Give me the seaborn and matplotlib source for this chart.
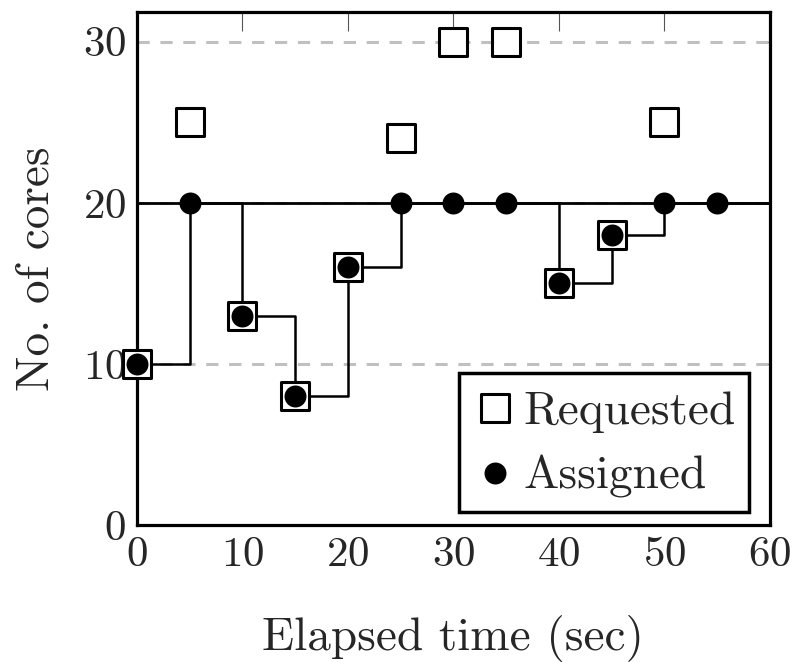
import matplotlib
matplotlib.use("Agg")
import matplotlib.pyplot as plt
import seaborn as sns
import pandas as pd

# ---- data ----
req_time = [0, 5, 10, 15, 20, 25, 30, 35, 40, 45, 50]
requested = [10, 25, 13, 8, 16, 24, 30, 30, 15, 18, 25]
asg_time = [0, 5, 10, 15, 20, 25, 30, 35, 40, 45, 50, 55]
assigned = [10, 20, 13, 8, 16, 20, 20, 20, 15, 18, 20, 20]
max_cores = 20
x_ticks = [0, 10, 20, 30, 40, 50, 60]
y_ticks = [0, 10, 20, 30]

sns.set_theme(style="white")
plt.rcParams['font.family'] = ['cmr10', 'DejaVu Serif']
plt.rcParams['axes.formatter.use_mathtext'] = True
plt.rcParams['mathtext.fontset'] = 'cm'

fig = plt.figure(figsize=(7.96, 6.62), dpi=100)
ax = fig.add_axes([0.172, 0.207, 0.795, 0.775])

xmax = x_ticks[-1]
# step line, extended to the right edge
step_df = pd.DataFrame({"t": asg_time + [xmax], "c": assigned + [assigned[-1]]})
sns.lineplot(data=step_df, x="t", y="c", ax=ax, color="black", lw=1.8,
             drawstyle="steps-post", estimator=None, sort=False, zorder=3)
ax.axhline(max_cores, color="black", lw=2.0, zorder=3)

req_df = pd.DataFrame({"t": req_time, "c": requested})
asg_df = pd.DataFrame({"t": asg_time, "c": assigned})
sns.scatterplot(data=req_df, x="t", y="c", ax=ax, marker="s", s=430,
                facecolor="white", edgecolor="black", linewidth=2.2,
                label="Requested", zorder=4, clip_on=False)
sns.scatterplot(data=asg_df, x="t", y="c", ax=ax, marker="o", s=250,
                color="black", edgecolor="black", linewidth=0,
                label="Assigned", zorder=5, clip_on=False)

ax.set_xlim(0, xmax)
ax.set_ylim(0, 31.85)
ax.set_xticks(x_ticks)
ax.set_yticks(y_ticks)
for yv in y_ticks[1:]:
    ax.axhline(yv, color="#c0c0c0", lw=2.2, ls=(0, (4, 3.5)), zorder=1)

ax.tick_params(axis="both", direction="in", top=True, right=True,
               labelsize=31, width=0.8, color="#555555")
ax.tick_params(axis="x", length=14, pad=8)
ax.tick_params(axis="y", length=9, pad=8)
for sp in ax.spines.values():
    sp.set_linewidth(2.3)
    sp.set_color("black")

ax.set_xlabel("Elapsed time (sec)", fontsize=34, labelpad=30)
ax.set_ylabel("No. of cores", fontsize=34, labelpad=18)

leg = ax.legend(loc="lower right", bbox_to_anchor=(0.968, 0.025), fontsize=34,
                frameon=True, fancybox=False, edgecolor="black", framealpha=1,
                handletextpad=0.15, borderpad=0.3, labelspacing=0.38,
                handlelength=0.9, handleheight=1.0, markerscale=1.0,
                borderaxespad=0)
leg.get_frame().set_linewidth(2.5)

fig.savefig("out.png", dpi=100)
